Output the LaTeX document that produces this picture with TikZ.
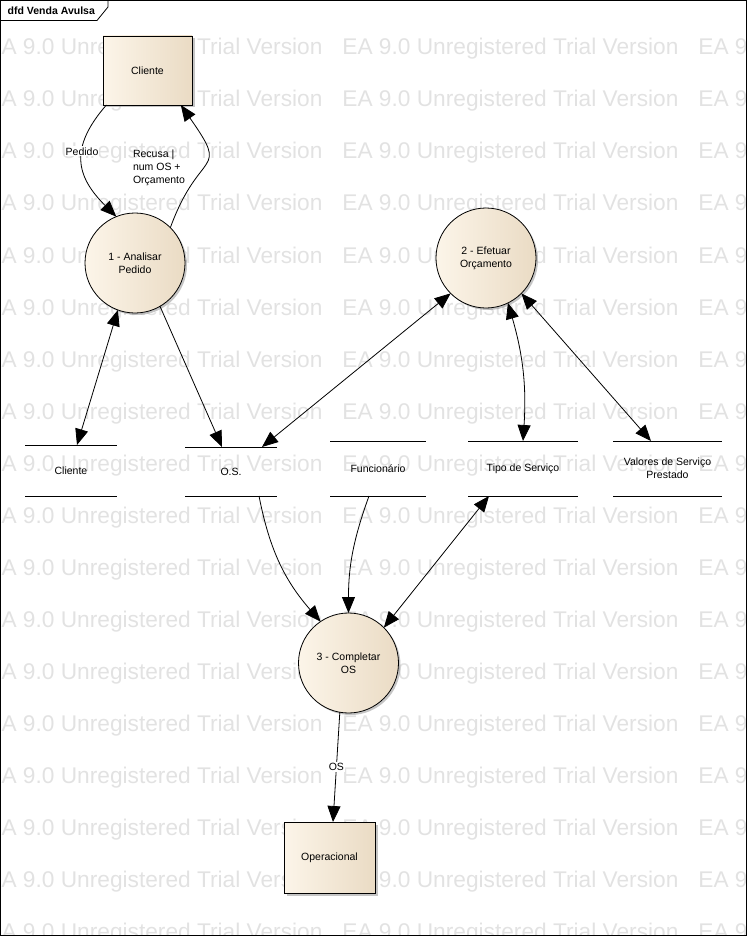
\documentclass[tikz,border=0pt]{standalone}
\usepackage{fontspec}
\setmainfont{Liberation Sans}
\usetikzlibrary{arrows.meta,shadows}

\definecolor{wmgray}{RGB}{226,226,226}
\definecolor{boxl}{RGB}{252,245,233}
\definecolor{boxr}{RGB}{234,219,196}

\begin{document}
\begin{tikzpicture}[x=1pt, y=1pt, line width=0.8pt,
    font=\fontsize{10.5}{13}\selectfont,
    ent/.style = {draw, rectangle, inner sep=0, outer sep=0, left color=boxl, right color=boxr,
        drop shadow={shadow xshift=2.5pt, shadow yshift=-2.5pt, fill=black!45}},
    proc/.style = {draw, circle, minimum size=100, inner sep=0, outer sep=0, align=center,
        left color=boxl, right color=boxr,
        drop shadow={shadow xshift=2pt, shadow yshift=-2pt, fill=black!45}},
    store/.style 2 args = {minimum width=#1, minimum height=#2, inner sep=0, outer sep=0, align=center,
        append after command={[line width=1.8pt]
            (\tikzlastnode.north west) edge (\tikzlastnode.north east)
            (\tikzlastnode.south west) edge (\tikzlastnode.south east)}},
    flow/.style = {-{Triangle[length=16pt, width=13pt]}},
    both/.style = {{Triangle[length=16pt, width=13pt]}-{Triangle[length=16pt, width=13pt]}},
    lbl/.style = {fill=white, inner sep=1pt},
    wm/.style = {anchor=base west, inner sep=0, text=wmgray, font=\fontsize{22.7}{27}\selectfont}]

    \useasboundingbox (0,0) rectangle (747,-936);

    \begin{scope}
        \clip (0,0) rectangle (747,-936);
        \foreach \r in {0,...,17}
            \foreach \c in {0,1,2}
                \node[wm] (wm-\r-\c) at (-14+356*\c, -55-52*\r) {EA 9.0 Unregistered Trial Version};
    \end{scope}

    \draw (0.5,-0.5) rectangle (746,-935);
    \draw (0.5,-20.5) -- (97,-20.5) -- (108,-7) -- (108,-0.5);
    \node[anchor=west, font=\bfseries\fontsize{10.5}{13}\selectfont] (title) at (4,-10.5) {dfd Venda Avulsa};

    \node[ent, minimum width=89, minimum height=69] (c) at (147.5,-70.5) {Cliente};
    \node[ent, minimum width=91, minimum height=71] (op) at (329.5,-857.5) {Operacional};

    \node[proc] (1) at (135,-263) {1 - Analisar\\Pedido};
    \node[proc] (2) at (486,-258) {2 - Efetuar\\Orçamento};
    \node[proc] (3) at (348.5,-663) {3 - Completar\\OS};

    \node[store={92}{51}] (s1) at (71,-470.5) {Cliente};
    \node[store={92}{49}] (s2) at (231,-471.5) {O.S.};
    \node[store={96}{55}] (s3) at (378,-468.5) {Funcionário};
    \node[store={110}{55}] (s4) at (523,-468.5) {Tipo de Serviço};
    \node[store={109}{55}] (s5) at (667.5,-468.5) {Valores de Serviço\\Prestado};

    \node[align=left] (rl) at (159,-168) {Recusa |\\num OS +\\Orçamento};



    \draw[flow] (c.220) to [out=229, in=135, looseness=1.3] node[lbl, pos=.4] {Pedido} (1.112);

    \draw[flow] (1.45) to [out=70, in=-55, looseness=1.8] (c.-46);


    \draw[both] (1.250) -- ([xshift=6]s1.north);

    \draw[flow] (1.300) -- ([xshift=-9]s2.north);

    \draw[both] (2.225) -- ([xshift=31]s2.north);

    \draw[both] (2.-64) to [bend left=10] (s4.north);

    \draw[both] (2.-45) -- ([xshift=-16.5]s5.north);


    \draw[flow] ([xshift=28]s2.south) to [bend right=15] (3.124);

    \draw[flow] ([xshift=-9]s3.south) to [bend right=10] (3.north);

    \draw[both] ([xshift=-34]s4.south) -- (3.45);


    \draw[flow] (3.260) -- node[lbl] {OS} ([xshift=3.5]op.north);

\end{tikzpicture}
\end{document}
